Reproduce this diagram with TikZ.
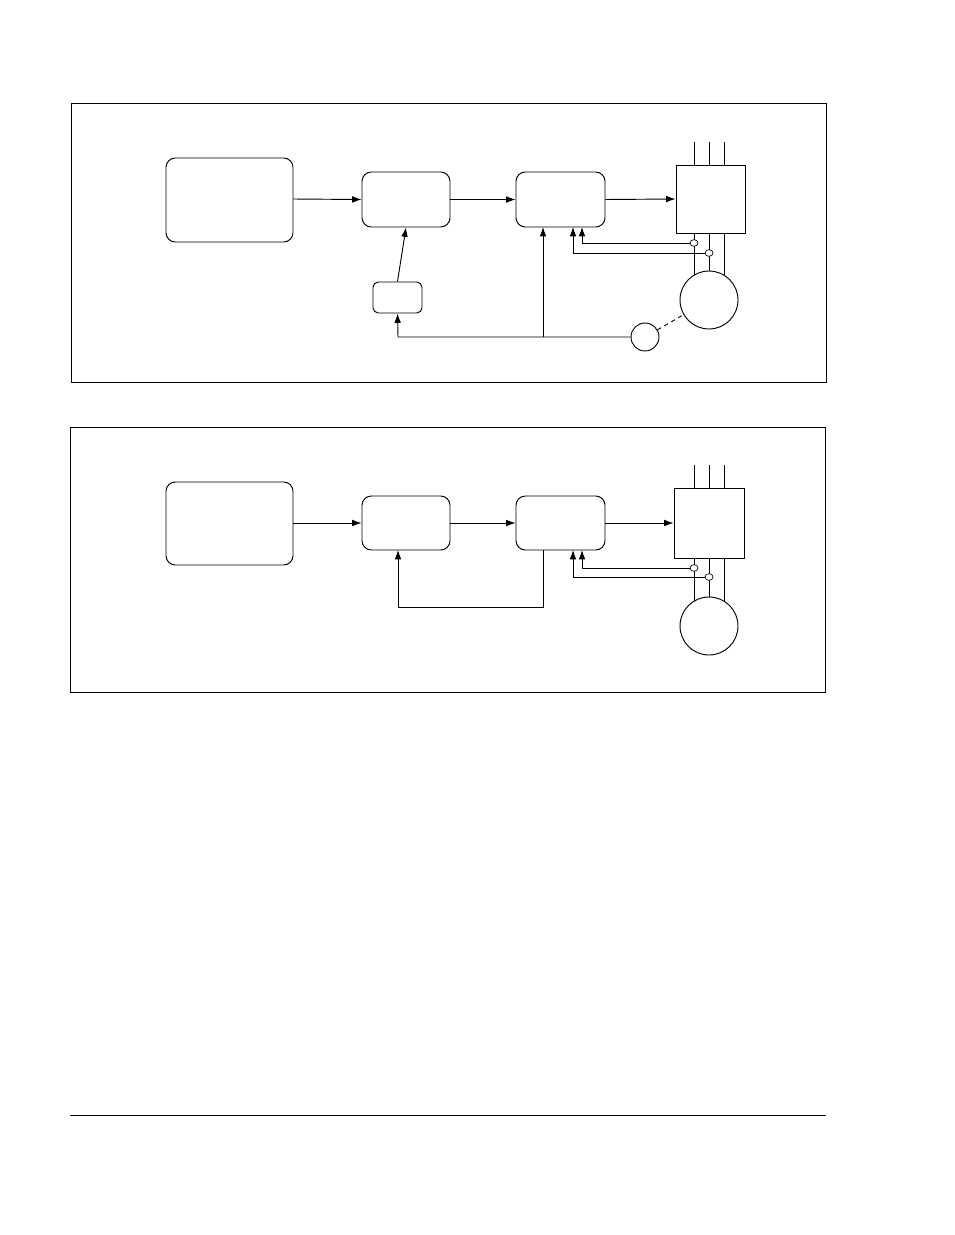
\documentclass[tikz,border=0pt]{standalone}
\usetikzlibrary{arrows.meta,shapes.geometric}
\begin{document}
\begin{tikzpicture}[x=0.75pt,y=-0.75pt,line width=0.7pt,
 blk/.style={draw,rounded corners=7pt},
 arr/.style={-{Latex[length=7pt,width=5pt]}},
 sens/.style={draw,ellipse,minimum width=6pt,minimum height=5pt,inner sep=0pt,line width=0.5pt,fill=white}]
\useasboundingbox (0,0) rectangle (954,1235);
% ---------- top panel
\draw (71,103) rectangle (826,382);
\draw[blk] (166,158) rectangle (293,242);
\node (B1) at (406,199.5) [blk,minimum width=88*0.75pt,minimum height=55*0.75pt] {};
\node (C1) at (560.5,199.5) [blk,minimum width=89*0.75pt,minimum height=55*0.75pt] {};
\node (I1) at (710.5,199) [draw,minimum width=69*0.75pt,minimum height=68*0.75pt] {};
\node (S1) at (397.5,297.5) [blk,rounded corners=4pt,minimum width=49*0.75pt,minimum height=31*0.75pt] {};
\node (M1) at (709,300) [draw,circle,minimum size=58*0.75pt,inner sep=0pt] {};
\node (E1) at (645,337) [draw,circle,minimum size=28*0.75pt,inner sep=0pt] {};
\foreach \x in {694,709,724} \draw (\x,142) -- (\x,165);
\draw (694,233) -- (694,275);
\draw (709,233) -- (709,271);
\draw (724,233) -- (724,275);
\draw[arr] (293,199) -- (B1.west);
\draw[arr] (B1.east) -- (C1.west);
\draw[arr] (C1.east) -- (I1.west);
\draw[arr] (S1.north) -- (B1.south);
\draw[dashed] (E1) -- (M1);
\draw[arr] (E1.west) -- (398,337) -- (S1.south);
\draw[arr] (543,337) -- (543,227);
\draw[arr] (694,243) -- (582,243) -- (582,227);
\draw[arr] (709,253) -- (573,253) -- (573,227);
\node[sens] at (694,243) {};
\node[sens] at (709,253) {};
% ---------- bottom panel
\draw (70,427) rectangle (825,692);
\draw[blk] (166,482) rectangle (293,565);
\node (B2) at (406,523) [blk,minimum width=88*0.75pt,minimum height=54*0.75pt] {};
\node (C2) at (560.5,523) [blk,minimum width=89*0.75pt,minimum height=54*0.75pt] {};
\node (I2) at (709,523) [draw,minimum width=70*0.75pt,minimum height=70*0.75pt] {};
\node (M2) at (709,626) [draw,circle,minimum size=58*0.75pt,inner sep=0pt] {};
\foreach \x in {694,709,724} \draw (\x,465) -- (\x,488);
\draw (694,558) -- (694,601);
\draw (709,558) -- (709,597);
\draw (724,558) -- (724,601);
\draw[arr] (293,523) -- (B2.west);
\draw[arr] (B2.east) -- (C2.west);
\draw[arr] (C2.east) -- (I2.west);
\draw[arr] (543,550) -- (543,607) -- (398,607) -- (398,550);
\draw[arr] (694,568) -- (582,568) -- (582,550);
\draw[arr] (709,577) -- (573,577) -- (573,550);
\node[sens] at (694,568) {};
\node[sens] at (709,577) {};
% bottom rule
\draw (70,1115) -- (826,1115);
\end{tikzpicture}
\end{document}
